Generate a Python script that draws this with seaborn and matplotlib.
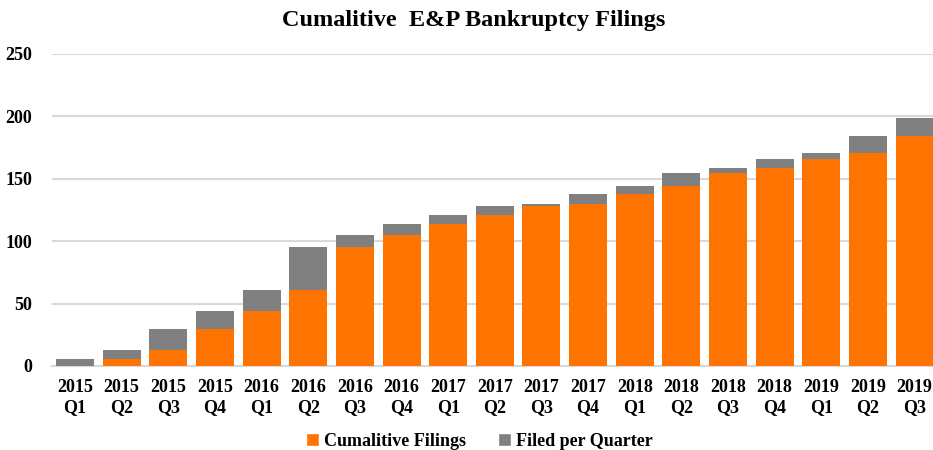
import numpy as np
import pandas as pd
import matplotlib
matplotlib.use("Agg")
import matplotlib.pyplot as plt
import seaborn as sns
from matplotlib.patches import Patch

# quarter labels
years = ['2015'] * 4 + ['2016'] * 4 + ['2017'] * 4 + ['2018'] * 4 + ['2019'] * 3
quarters = ['Q1', 'Q2', 'Q3', 'Q4'] * 4 + ['Q1', 'Q2', 'Q3']
labels = [f'{y}\n{q}' for y, q in zip(years, quarters)]

# values
cumulative = [0, 6, 13, 30, 44, 61, 95, 105, 114, 121, 128, 130, 138, 144, 155, 159, 166, 171, 184]
per_quarter = [6, 7, 17, 14, 17, 34, 10, 9, 7, 7, 2, 8, 6, 11, 4, 7, 5, 13, 15]

ORANGE = '#FF7300'
GRAY = '#808080'

df = pd.DataFrame({'quarter': labels, 'cum': cumulative, 'filed': per_quarter})
df['total'] = df['cum'] + df['filed']

sns.set_theme(style='white')
plt.rcParams['font.family'] = ['Liberation Serif', 'DejaVu Serif']
plt.rcParams['text.color'] = 'black'

fig = plt.figure(figsize=(9.33, 4.5), dpi=100)
ax = fig.add_axes([51.7 / 933, 84 / 450, 886.2 / 933, 312 / 450])

sns.barplot(data=df, x='quarter', y='total', color=GRAY, width=0.815,
            saturation=1, ax=ax, linewidth=0, zorder=3)
sns.barplot(data=df, x='quarter', y='cum', color=ORANGE, width=0.815,
            saturation=1, ax=ax, linewidth=0, zorder=4)

ax.set_xlim(-0.5, len(labels) - 0.5)
ax.set_ylim(0, 250)
ax.set_yticks(range(0, 251, 50))
ax.yaxis.grid(True, color='#D9D9D9', linewidth=1.5, zorder=0)
ax.set_axisbelow(True)
for side in ['top', 'right', 'left']:
    ax.spines[side].set_visible(False)
ax.spines['bottom'].set_color('#D9D9D9')
ax.spines['bottom'].set_linewidth(1.5)
ax.set_xlabel('')
ax.set_ylabel('')
ax.tick_params(axis='both', length=0, labelsize=13, colors='black')
ax.tick_params(axis='y', pad=14)
ax.tick_params(axis='x', pad=9)
for t in ax.get_xticklabels() + ax.get_yticklabels():
    t.set_fontweight('bold')
    t.set_linespacing(1.25)

fig.text(0.508, 0.955, 'Cumalitive  E&P Bankruptcy Filings', ha='center', va='center',
         fontsize=17.5, fontweight='bold', color='black')

handles = [Patch(facecolor=ORANGE, label='Cumalitive Filings'),
           Patch(facecolor=GRAY, label='Filed per Quarter')]
fig.legend(handles=handles, loc='center', bbox_to_anchor=(0.514, 0.02), ncol=2,
           frameon=False, prop={'size': 13, 'weight': 'bold'},
           handlelength=0.7, handleheight=0.7, handletextpad=0.3, columnspacing=1.8)

fig.savefig('out.png', dpi=100)
